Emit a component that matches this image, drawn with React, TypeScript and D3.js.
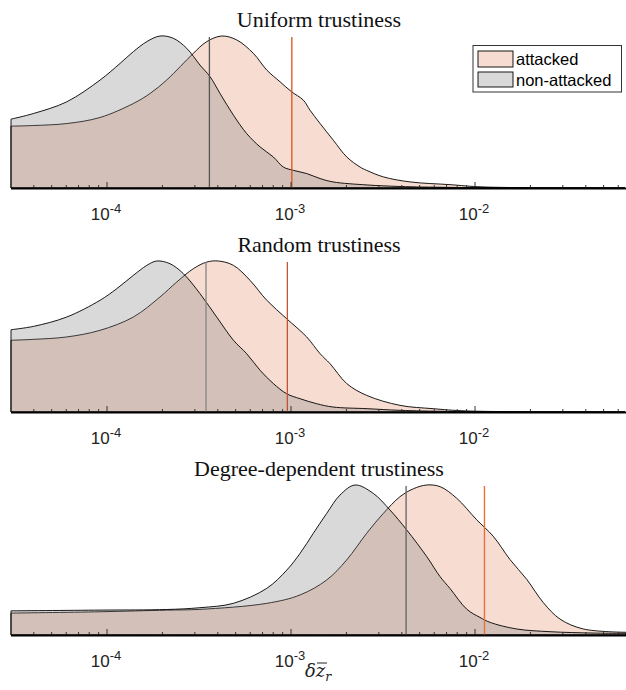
import React from "react";
import * as d3 from "d3";

// ---------- DATA (log10 of δz̄_r, normalised density) ----------
const topNonLogX = [-4.522, -4.4, -4.219, -4.038, -3.929, -3.857, -3.784, -3.712, -3.64, -3.567, -3.495, -3.44, -3.386, -3.313, -3.241, -3.168, -3.096, -3.042, -2.987, -2.915, -2.842, -2.772, -2.587, -2.408, -2.136, -1.185];
const topNonDens = [0.453, 0.49, 0.567, 0.71, 0.82, 0.897, 0.963, 1.0, 0.985, 0.919, 0.809, 0.732, 0.622, 0.479, 0.358, 0.27, 0.204, 0.138, 0.116, 0.095, 0.062, 0.04, 0.02, 0.01, 0.004, 0];
const topAttLogX = [-4.522, -4.4, -4.219, -4.038, -3.857, -3.766, -3.676, -3.603, -3.531, -3.458, -3.377, -3.295, -3.205, -3.132, -3.06, -2.997, -2.933, -2.897, -2.842, -2.77, -2.697, -2.625, -2.589, -2.498, -2.353, -2.136, -1.957, -1.185];
const topAttDens = [0.407, 0.411, 0.424, 0.464, 0.556, 0.622, 0.71, 0.798, 0.886, 0.963, 1.0, 0.974, 0.886, 0.776, 0.699, 0.633, 0.578, 0.512, 0.424, 0.314, 0.204, 0.138, 0.116, 0.073, 0.04, 0.022, 0.007, 0];

const midNonLogX = [-4.522, -4.4, -4.219, -4.038, -3.947, -3.857, -3.784, -3.73, -3.658, -3.585, -3.495, -3.404, -3.313, -3.241, -3.168, -3.096, -3.024, -2.951, -2.861, -2.772, -2.587, -2.408, -2.136, -1.185];
const midNonDens = [0.545, 0.567, 0.629, 0.74, 0.817, 0.905, 0.971, 1.0, 0.982, 0.916, 0.784, 0.629, 0.475, 0.386, 0.276, 0.188, 0.121, 0.088, 0.055, 0.033, 0.022, 0.011, 0.004, 0];
const midAttLogX = [-4.522, -4.4, -4.219, -4.038, -3.857, -3.712, -3.621, -3.531, -3.458, -3.395, -3.313, -3.223, -3.132, -3.024, -2.915, -2.842, -2.788, -2.697, -2.589, -2.408, -2.228, -2.043, -1.185];
const midAttDens = [0.475, 0.481, 0.497, 0.541, 0.629, 0.762, 0.861, 0.949, 0.993, 1.0, 0.971, 0.872, 0.74, 0.618, 0.497, 0.386, 0.32, 0.188, 0.11, 0.044, 0.022, 0.007, 0];

const botNonLogX = [-4.522, -4.038, -3.676, -3.495, -3.314, -3.132, -3.023, -2.951, -2.879, -2.806, -2.734, -2.652, -2.553, -2.462, -2.371, -2.262, -2.19, -2.136, -2.045, -1.973, -1.918, -1.773, -1.592, -1.359, -1.179];
const botNonDens = [0.161, 0.166, 0.17, 0.182, 0.211, 0.311, 0.433, 0.544, 0.678, 0.811, 0.933, 1.0, 0.944, 0.833, 0.7, 0.522, 0.389, 0.31, 0.172, 0.117, 0.084, 0.04, 0.022, 0.013, 0.011];
const botAttLogX = [-4.522, -4.038, -3.676, -3.495, -3.132, -2.951, -2.806, -2.698, -2.589, -2.498, -2.408, -2.335, -2.263, -2.19, -2.1, -1.991, -1.901, -1.81, -1.719, -1.629, -1.538, -1.411, -1.179];
const botAttDens = [0.146, 0.155, 0.166, 0.171, 0.211, 0.267, 0.367, 0.5, 0.678, 0.811, 0.922, 0.975, 1.0, 0.989, 0.912, 0.768, 0.658, 0.503, 0.371, 0.216, 0.106, 0.04, 0.018];

const panelTitles = ["Uniform trustiness", "Random trustiness", "Degree-dependent trustiness"];
const nonAttackedMedian = [3.6e-4, 3.45e-4, 4.22e-3];
const attackedMedian = [1.01e-3, 9.55e-4, 1.125e-2];
const majorTickExp = [-4, -3, -2];
const legendLabels = ["attacked", "non-attacked"];
const xLabel = "δz";
const xLabelSub = "r";

// ---------- LAYOUT ----------
const W = 626;
const H = 690;
const xDomain = [Math.pow(10, -4.522), Math.pow(10, -1.185)];
const axisYs = [188, 412, 635];
const peakYs = [36, 261, 485];
const vColorsNon = ["#555555", "#858585", "#6a6a6a"];
const vColorsAtt = ["#D95319", "#C0542E", "#E8703C"];
const vWidths = [1.3, 1.3, 1.4];

const attFill = "rgba(217,83,25,0.2)";
const nonFill = "rgba(128,128,128,0.3)";

const panels = [
  { non: [topNonLogX, topNonDens], att: [topAttLogX, topAttDens] },
  { non: [midNonLogX, midNonDens], att: [midAttLogX, midAttDens] },
  { non: [botNonLogX, botNonDens], att: [botAttLogX, botAttDens] },
];

export default function App() {
  const x = d3.scaleLog().domain(xDomain).range([11, 625]);

  const minorTicks: number[] = [];
  for (let e = -5; e <= -1; e++) {
    for (let m = 2; m <= 9; m++) {
      const v = m * Math.pow(10, e);
      if (v >= xDomain[0] && v <= xDomain[1]) minorTicks.push(v);
    }
  }

  return (
    <svg width={W} height={H} style={{ position: "absolute", left: 0, top: 0, background: "#fff" }}>
      {panels.map((p, i) => {
        const base = axisYs[i];
        const peak = peakYs[i];
        const y = d3.scaleLinear().domain([0, 1]).range([base, peak]);
        const area = d3
          .area<[number, number]>()
          .x((d) => x(Math.pow(10, d[0])))
          .y0(base)
          .y1((d) => Math.min(base, y(d[1])))
          .curve(d3.curveCatmullRom.alpha(0.5));
        const attPts = p.att[0].map((lx, k) => [lx, p.att[1][k]] as [number, number]);
        const nonPts = p.non[0].map((lx, k) => [lx, p.non[1][k]] as [number, number]);
        return (
          <g key={i}>
            <text
              x={319}
              y={peak - 9}
              textAnchor="middle"
              fontFamily="'Liberation Serif', serif"
              fontSize={22}
              fill="#111"
            >
              {panelTitles[i]}
            </text>
            <path d={area(attPts) || ""} fill={attFill} stroke="#000" strokeWidth={0.9} strokeLinejoin="round" />
            <path d={area(nonPts) || ""} fill={nonFill} stroke="#000" strokeWidth={0.9} strokeLinejoin="round" />
            <line x1={x(nonAttackedMedian[i])} x2={x(nonAttackedMedian[i])} y1={base} y2={peak + 1} stroke={vColorsNon[i]} strokeWidth={vWidths[i]} />
            <line x1={x(attackedMedian[i])} x2={x(attackedMedian[i])} y1={base} y2={peak + 1} stroke={vColorsAtt[i]} strokeWidth={vWidths[i]} />
            {minorTicks.map((t, k) => (
              <line key={"m" + k} x1={x(t)} x2={x(t)} y1={base} y2={base - 3} stroke="#333" strokeWidth={1} />
            ))}
            {majorTickExp.map((e) => (
              <line key={"M" + e} x1={x(Math.pow(10, e))} x2={x(Math.pow(10, e))} y1={base} y2={base - 6} stroke="#333" strokeWidth={1} />
            ))}
            <line x1={11} x2={626} y1={base + 0.5} y2={base + 0.5} stroke="#000" strokeWidth={2} />
            {majorTickExp.map((e) => (
              <text
                key={"L" + e}
                x={x(Math.pow(10, e)) - 1}
                y={base + 32}
                textAnchor="middle"
                fontFamily="'Liberation Sans', Arial, sans-serif"
                fontSize={17}
                fill="#222"
              >
                10
                <tspan fontSize={13} dy={-7.5}>
                  {String(e)}
                </tspan>
              </text>
            ))}
          </g>
        );
      })}

      {/* legend */}
      <g>
        <rect x={473} y={45.5} width={148.5} height={46.5} fill="#fff" stroke="#333" strokeWidth={1} />
        <rect x={478} y={51} width={35} height={16} fill={attFill} stroke="#000" strokeWidth={0.9} />
        <rect x={478} y={72} width={35} height={15} fill={nonFill} stroke="#000" strokeWidth={0.9} />
        <text x={516} y={65} fontFamily="'Liberation Sans', Arial, sans-serif" fontSize={16.5} fill="#000">
          {legendLabels[0]}
        </text>
        <text x={516} y={86} fontFamily="'Liberation Sans', Arial, sans-serif" fontSize={16.5} fill="#000">
          {legendLabels[1]}
        </text>
      </g>

      {/* x label */}
      <g>
        <text x={305} y={677} fontFamily="'DejaVu Serif', serif" fontStyle="italic" fontSize={18} fill="#222">
          {xLabel}
          <tspan fontSize={12.5} dy={4}>
            {xLabelSub}
          </tspan>
        </text>
        <line x1={317} x2={327} y1={663} y2={663} stroke="#222" strokeWidth={1} />
      </g>
    </svg>
  );
}
